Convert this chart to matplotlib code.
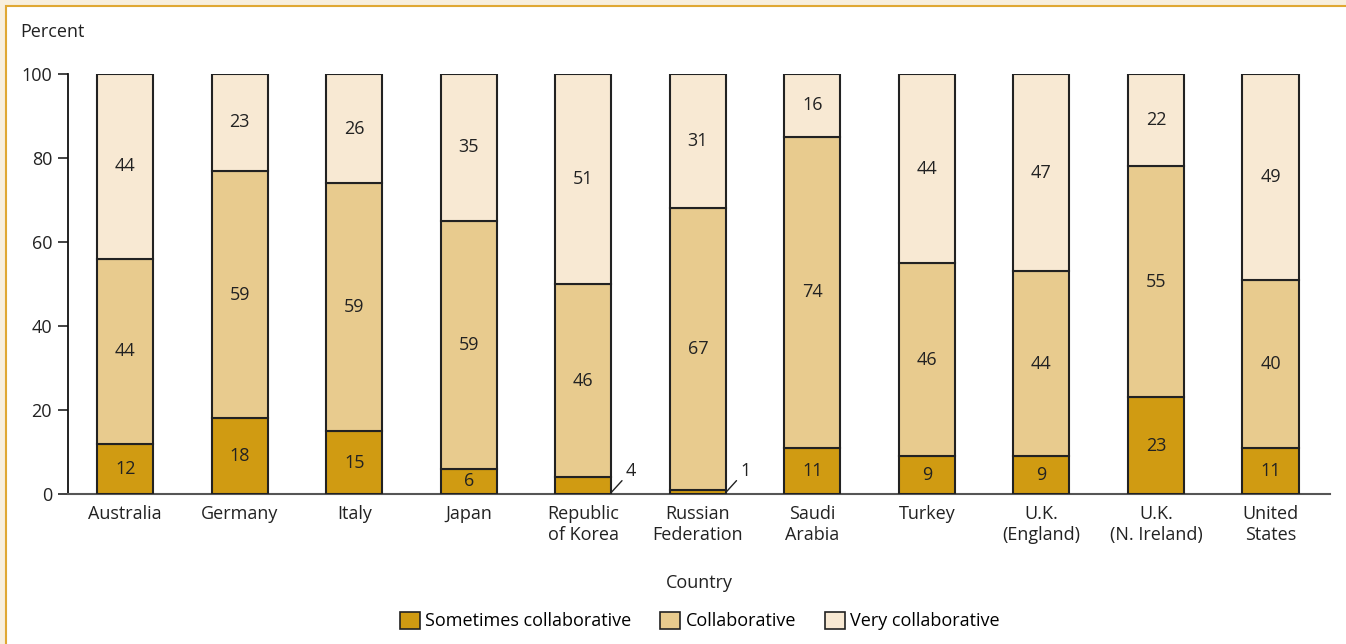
import matplotlib.pyplot as plt
from matplotlib.patches import Rectangle, Patch

countries = ["Australia", "Germany", "Italy", "Japan", "Republic\nof Korea",
             "Russian\nFederation", "Saudi\nArabia", "Turkey", "U.K.\n(England)",
             "U.K.\n(N. Ireland)", "United\nStates"]
sometimes = [12, 18, 15, 6, 4, 1, 11, 9, 9, 23, 11]
collab = [44, 59, 59, 59, 46, 67, 74, 46, 44, 55, 40]
very = [44, 23, 26, 35, 51, 31, 16, 44, 47, 22, 49]
series_names = ["Sometimes collaborative", "Collaborative", "Very collaborative"]
colors = ["#D09B12", "#E8CB8E", "#F8E9D3"]

plt.rcParams['font.family'] = ['Open Sans', 'DejaVu Sans']

fig = plt.figure(figsize=(13.46, 6.44), dpi=100, facecolor="#F8EFDD")
# white panel with gold frame line
fig.patches.append(Rectangle((5.5 / 1346, -0.05), 1.1, 1 - 5.5 / 644 + 0.05,
                             transform=fig.transFigure, facecolor="white",
                             edgecolor="#E0A833", linewidth=1.5, zorder=-10))

ax = fig.add_axes([68 / 1346, 1 - 494 / 644, (1330 - 68) / 1346, 420 / 644])
ax.set_facecolor("none")

x = list(range(len(countries)))
w = 0.49
ec = "#222222"
top_base = [s + c for s, c in zip(sometimes, collab)]
top_h = [100 - b for b in top_base]

ax.bar(x, sometimes, w, color=colors[0], edgecolor=ec, linewidth=1.5, zorder=3)
ax.bar(x, collab, w, bottom=sometimes, color=colors[1], edgecolor=ec, linewidth=1.5, zorder=3)
ax.bar(x, top_h, w, bottom=top_base, color=colors[2], edgecolor=ec, linewidth=1.5, zorder=3)

fs = 13
for i in x:
    if sometimes[i] >= 5:
        ax.text(i, sometimes[i] / 2, str(sometimes[i]), ha="center", va="center", fontsize=fs, color="#222")
    else:
        ax.annotate(str(sometimes[i]), xy=(i + w / 2, 0.4), xytext=(i + 0.37, 5.5),
                    ha="left", va="center", fontsize=fs, color="#222",
                    arrowprops=dict(arrowstyle="-", color="#222", lw=1.0,
                                    shrinkA=1, shrinkB=0))
    ax.text(i, sometimes[i] + collab[i] / 2, str(collab[i]), ha="center", va="center", fontsize=fs, color="#222")
    ax.text(i, top_base[i] + top_h[i] / 2, str(very[i]), ha="center", va="center", fontsize=fs, color="#222")

ax.set_xlim(-0.5, 10.52)
ax.set_ylim(0, 100)
ax.set_yticks([0, 20, 40, 60, 80, 100])
ax.set_xticks(x)
ax.set_xticklabels(countries, fontsize=13, color="#222", linespacing=1.2)
ax.tick_params(axis="y", length=7.5, width=1.2, labelsize=13, pad=4, colors="#222")
ax.tick_params(axis="x", length=0, pad=8)
for s in ["top", "right"]:
    ax.spines[s].set_visible(False)
ax.spines["left"].set_linewidth(1.3)
ax.spines["left"].set_color("#111")
ax.spines["bottom"].set_linewidth(1.5)
ax.spines["bottom"].set_color("#555")

fig.text(20 / 1346, 1 - 32 / 644, "Percent", fontsize=13, color="#222", va="center")
fig.text(699 / 1346, 1 - 583 / 644, "Country", fontsize=13, color="#222", ha="center", va="center")

handles = [Patch(facecolor=c, edgecolor=ec, linewidth=1.2) for c in colors]
fig.legend(handles, series_names, loc="center", bbox_to_anchor=(700 / 1346, 1 - 621 / 644),
           ncol=3, frameon=False, fontsize=13, handlelength=1.1, handleheight=1.1,
           handletextpad=0.3, columnspacing=1.6)

fig.savefig("out.png", dpi=100, facecolor=fig.get_facecolor())
